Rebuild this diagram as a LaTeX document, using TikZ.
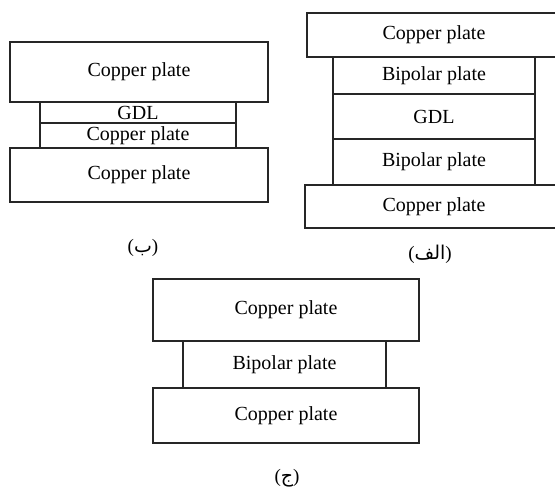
\documentclass[tikz,border=0pt]{standalone}
\usepackage{fontspec}
\setmainfont{Liberation Serif}
\newfontfamily\arabicfont[Script=Arabic]{DejaVu Sans}
\TeXXeTstate=1
\begin{document}
\begin{tikzpicture}[x=1pt,y=-1pt,
  plate/.style={draw=black!85, line width=1.1pt, rectangle, inner sep=0pt, outer sep=0pt,
    font=\fontsize{20}{22}\selectfont},
  figlabel/.style={inner sep=0pt, font=\fontsize{19}{22}\selectfont}]
\useasboundingbox (0,0) rectangle (555,487);
\clip (0,0) rectangle (555,487);
% (b)
\node[plate, minimum width=258, minimum height=60] (bTop) at (139,72) {Copper plate};
\node[plate, minimum width=196, minimum height=21] (bGDL) at (138,112.5) {GDL};
\node[plate, minimum width=196, minimum height=25] (bCu) at (138,135.5) {Copper plate};
\node[plate, minimum width=258, minimum height=54] (bBot) at (139,175) {Copper plate};
\node[figlabel] (bLab) at (143,248) {({\arabicfont\beginR ب\endR})};
% (alef)
\node[plate, minimum width=202, minimum height=37] (aBip1) at (434,75.5) {Bipolar plate};
\node[plate, minimum width=202, minimum height=45] (aGDL) at (434,116.5) {GDL};
\node[plate, minimum width=202, minimum height=46] (aBip2) at (434,162) {Bipolar plate};
\node[plate, minimum width=254, minimum height=44] (aTop) at (434,35) {Copper plate};
\node[plate, minimum width=258, minimum height=43] (aBot) at (434,206.5) {Copper plate};
\node[figlabel] (aLab) at (430,254) {({\arabicfont\beginR الف\endR})};
% (jim)
\node[plate, minimum width=266, minimum height=62] (cTop) at (286,310) {Copper plate};
\node[plate, minimum width=203, minimum height=47] (cBip) at (284.5,364.5) {Bipolar plate};
\node[plate, minimum width=266, minimum height=55] (cBot) at (286,415.5) {Copper plate};
\node[figlabel] (cLab) at (287,478) {({\arabicfont\beginR ج\endR})};
\end{tikzpicture}
\end{document}
